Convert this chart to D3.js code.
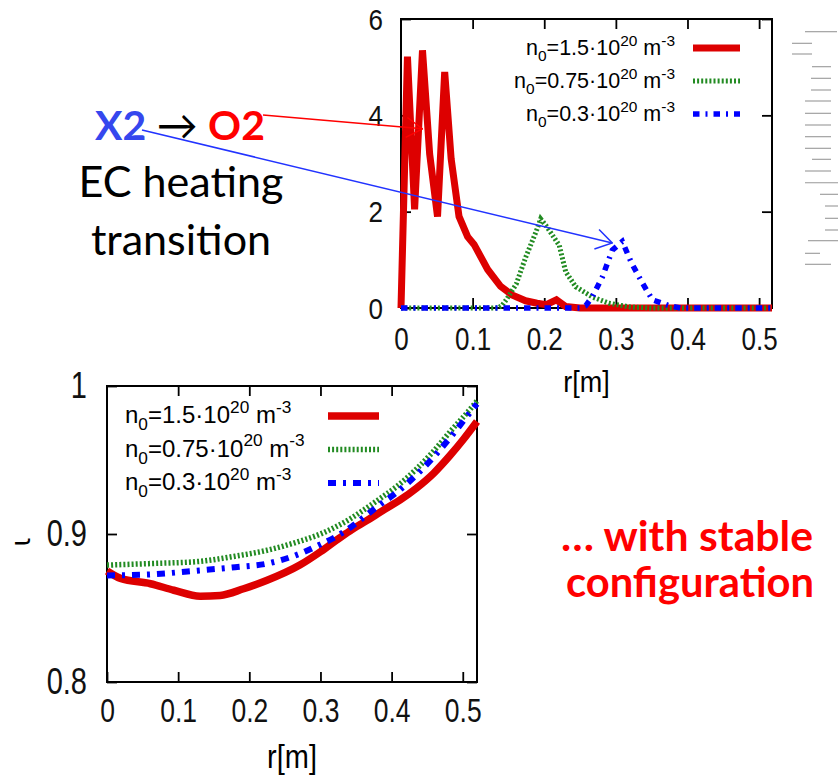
<!DOCTYPE html>
<html>
<head>
<meta charset="utf-8">
<script src="https://cdn.jsdelivr.net/npm/d3@7"></script>
<style>
body { margin: 0; background: #fff; }
svg { display: block; }
.tick line { stroke: #000; stroke-width: 1.8; }
.tick text { font-family: "Liberation Sans", Arial, sans-serif; fill: #111; }
.note { font-family: Lato, "Open Sans", sans-serif; }
</style>
</head>
<body>
<svg width="839" height="777"></svg>
<script>
// ---- data ----
// top panel: EC power density profile vs r[m]
var pwrHigh = [[0,0],[0.009,5.22],[0.019,2.05],[0.030,5.35],[0.040,3.2],[0.051,1.9],[0.061,4.9],[0.070,3.1],
  [0.081,1.9],[0.093,1.48],[0.102,1.32],[0.121,0.8],[0.139,0.45],[0.155,0.27],[0.174,0.15],[0.19,0.1],
  [0.203,0.07],[0.217,0.17],[0.23,0.03],[0.25,0],[0.3,0],[0.4,0],[0.5,0],[0.518,0]];
var pwrMid = [[0,0],[0.1,0],[0.135,0],[0.141,0.05],[0.147,0.17],[0.161,0.5],[0.174,1.05],[0.189,1.6],
  [0.195,1.85],[0.203,1.7],[0.221,1.3],[0.23,0.75],[0.244,0.44],[0.267,0.23],[0.29,0.1],[0.32,0.02],
  [0.35,0],[0.4,0],[0.5,0],[0.518,0]];
var pwrLow = [[0,0],[0.1,0],[0.2,0],[0.25,0],[0.258,0.05],[0.267,0.23],[0.281,0.64],[0.295,1.2],
  [0.309,1.38],[0.322,0.93],[0.337,0.52],[0.351,0.17],[0.374,0.05],[0.39,0],[0.45,0],[0.518,0]];

// bottom panel: rotational transform iota vs r[m]
var iotaHigh = [[0,0.875],[0.019,0.870],[0.061,0.8664],[0.094,0.862],[0.131,0.858],[0.159,0.8585],
  [0.192,0.863],[0.225,0.8687],[0.271,0.879],[0.30,0.888],[0.323,0.896],[0.341,0.902],[0.365,0.909],
  [0.388,0.916],[0.412,0.923],[0.435,0.931],[0.459,0.941],[0.482,0.953],[0.501,0.964],[0.52,0.976]];
var iotaMid = [[0,0.879],[0.06,0.880],[0.13,0.8815],[0.18,0.885],[0.225,0.889],[0.27,0.895],[0.30,0.900],
  [0.321,0.9047],[0.341,0.910],[0.36,0.916],[0.384,0.924],[0.407,0.932],[0.435,0.944],[0.459,0.956],
  [0.482,0.969],[0.515,0.987],[0.52,0.990]];
var iotaLow = [[0,0.872],[0.06,0.8727],[0.13,0.8754],[0.18,0.8776],[0.225,0.880],[0.27,0.8865],[0.30,0.893],
  [0.321,0.898],[0.341,0.904],[0.36,0.911],[0.384,0.920],[0.407,0.928],[0.435,0.940],[0.459,0.952],
  [0.482,0.965],[0.515,0.985],[0.52,0.988]];

var densities = ["1.5", "0.75", "0.3"];
var xTicks = [0, 0.1, 0.2, 0.3, 0.4, 0.5];
var pwrTicks = [0, 2, 4, 6];
var iotaTicks = [0.8, 0.9, 1];

var svg = d3.select("svg");

var styles = [
  {color: "#dd0000", width: 7, dash: null},
  {color: "#228b22", width: 5, dash: "2,2.1"},
  {color: "#0000ff", width: 5.5, dash: "6.5,6,2,6"}
];
var stylesLow = [
  {color: "#dd0000", width: 7.5, dash: null},
  {color: "#228b22", width: 5.5, dash: "2,2.1"},
  {color: "#0000ff", width: 6, dash: "8,7,3,7"}
];

function panel(box, xDom, yDom, yTicks, o) {
  var x = d3.scaleLinear().domain(xDom).range([box.l, box.r]);
  var y = d3.scaleLinear().domain(yDom).range([box.b, box.t]);
  var g = svg.append("g");

  var bx = g.append("g").attr("transform", "translate(0," + box.b + ")")
      .call(d3.axisBottom(x).tickValues(xTicks).tickSize(-10).tickFormat(String));
  bx.selectAll("text").attr("y", 0).attr("dy", null)
      .style("font-size", o.xfs + "px")
      .attr("transform", "translate(0," + o.xoff + ") scale(1," + o.xs + ")");
  g.append("g").attr("transform", "translate(0," + box.t + ")")
      .call(d3.axisTop(x).tickValues(xTicks.slice(1)).tickSize(-10).tickFormat(""));

  var ly = g.append("g").attr("transform", "translate(" + box.l + ",0)")
      .call(d3.axisLeft(y).tickValues(yTicks).tickSize(-10).tickFormat(String));
  ly.selectAll("text").attr("x", 0).attr("dy", null)
      .style("font-size", o.yfs + "px")
      .attr("transform", "translate(" + o.yoff + "," + o.ybase + ") scale(1," + o.ys + ")");
  g.append("g").attr("transform", "translate(" + box.r + ",0)")
      .call(d3.axisRight(y).tickValues(yTicks).tickSize(-10).tickFormat(""));
  g.selectAll(".domain").remove();

  g.append("rect").attr("x", box.l).attr("y", box.t)
      .attr("width", box.r - box.l).attr("height", box.b - box.t)
      .attr("fill", "none").attr("stroke", "#000").attr("stroke-width", 2);

  g.append("text").attr("x", (box.l + box.r) / 2).attr("y", 0)
      .attr("transform", "translate(0," + o.lab + ") scale(1,1.12)")
      .attr("text-anchor", "middle")
      .style("font-family", "Liberation Sans, Arial, sans-serif")
      .style("font-size", o.labfs + "px").text("r[m]");

  return {x: x, y: y, g: g};
}

function drawLines(p, series, st, curve) {
  var line = d3.line().curve(curve)
      .x(function(d) { return p.x(d[0]); }).y(function(d) { return p.y(d[1]); });
  series.forEach(function(s, i) {
    p.g.append("path").datum(s).attr("d", line)
      .attr("fill", "none").attr("stroke", st[i].color)
      .attr("stroke-width", st[i].width).attr("stroke-dasharray", st[i].dash)
      .attr("stroke-linejoin", "miter").attr("stroke-miterlimit", 10);
  });
}

function legend(p, st, o) {
  densities.forEach(function(dn, i) {
    var yy = o.y + i * o.dy;
    var t = p.g.append("text").attr("x", o.tx).attr("y", yy + 7)
        .attr("text-anchor", o.anchor)
        .style("font-family", "Liberation Sans, Arial, sans-serif")
        .style("font-size", o.fs + "px");
    var fs = o.fs;
    t.append("tspan").text("n");
    t.append("tspan").attr("dy", fs * 0.3).style("font-size", (fs * 0.72) + "px").text("0");
    t.append("tspan").attr("dy", -fs * 0.3).text("=" + dn + "\u00b710");
    t.append("tspan").attr("dy", -fs * 0.42).style("font-size", (fs * 0.72) + "px").text("20");
    t.append("tspan").attr("dy", fs * 0.42).text(" m");
    t.append("tspan").attr("dy", -fs * 0.42).style("font-size", (fs * 0.72) + "px").text("-3");
    p.g.append("line").attr("x1", o.l1).attr("x2", o.l2).attr("y1", yy).attr("y2", yy)
      .attr("stroke", st[i].color).attr("stroke-width", st[i].width)
      .attr("stroke-dasharray", st[i].dash);
  });
}

// ---- top panel ----
var upper = panel({l: 401, r: 772, t: 19, b: 308}, [0, 0.518], [0, 6], pwrTicks,
  {xfs: 26, xoff: 42, xs: 1.22, yfs: 26, yoff: -18, ybase: 10, ys: 1.1, lab: 392, labfs: 27});
drawLines(upper, [pwrHigh, pwrMid, pwrLow], styles, d3.curveLinear);
legend(upper, styles, {y: 48, dy: 33, tx: 675, anchor: "end", fs: 21.5, l1: 693, l2: 740});

// ---- bottom panel ----
var lower = panel({l: 107, r: 477, t: 386, b: 682}, [0, 0.52], [0.8, 1.0], iotaTicks,
  {xfs: 26.5, xoff: 40, xs: 1.22, yfs: 29, yoff: -20, ybase: 11, ys: 1.28, lab: 768, labfs: 29});
drawLines(lower, [iotaHigh, iotaMid, iotaLow], stylesLow, d3.curveMonotoneX);
legend(lower, stylesLow, {y: 416, dy: 33.5, tx: 125, anchor: "start", fs: 24, l1: 328, l2: 379});

svg.append("text").attr("transform", "translate(30,542) rotate(-90)")
  .attr("text-anchor", "middle")
  .style("font-family", "DejaVu Sans, sans-serif").style("font-size", "26px")
  .text("\u03b9");

// ---- annotations ----
function fit(t, w) {
  var fs = parseFloat(t.style("font-size"));
  t.style("font-size", (fs * w / t.node().getComputedTextLength()) + "px");
  return parseFloat(t.style("font-size"));
}

var head = svg.append("text").attr("class", "note").attr("x", 95).attr("y", 140)
  .style("font-size", "40px");
head.append("tspan").attr("fill", "#3547ee").style("font-weight", 700).text("X2");
head.append("tspan").attr("fill", "#000").text(" \u2192 ");
head.append("tspan").attr("fill", "#ff0000").style("font-weight", 700).text("O2");
fit(head, 170);

var ec = svg.append("text").attr("class", "note").attr("x", 181).attr("y", 197)
  .attr("text-anchor", "middle").style("font-size", "40px").text("EC heating");
var ecSize = fit(ec, 205);
svg.append("text").attr("class", "note").attr("x", 181).attr("y", 255)
  .attr("text-anchor", "middle").style("font-size", ecSize + "px").text("transition");

var w1 = svg.append("text").attr("class", "note").attr("x", 687).attr("y", 551)
  .attr("text-anchor", "middle").attr("fill", "#ff0000").style("font-weight", 700)
  .style("font-size", "36px").text("\u2026 with stable");
fit(w1, 252);
var w2 = svg.append("text").attr("class", "note").attr("x", 690).attr("y", 597)
  .attr("text-anchor", "middle").attr("fill", "#ff0000").style("font-weight", 700)
  .style("font-size", "36px").text("configuration");
fit(w2, 248);

// arrows from labels to the heating peaks
var defs = svg.append("defs");
[["headRed", "#ff0000"], ["headBlue", "#2233ff"]].forEach(function(m) {
  defs.append("marker").attr("id", m[0]).attr("viewBox", "0 0 18 22")
    .attr("refX", 17).attr("refY", 11).attr("markerWidth", 18).attr("markerHeight", 22)
    .attr("markerUnits", "userSpaceOnUse").attr("orient", "auto")
    .append("path").attr("d", "M1,1 L17,11 L1,21").attr("fill", "none")
    .attr("stroke", m[1]).attr("stroke-width", 1.5);
});
svg.append("line").attr("x1", 263).attr("y1", 115)
  .attr("x2", upper.x(0.03)).attr("y2", upper.y(3.72))
  .attr("stroke", "#ff0000").attr("stroke-width", 1.5).attr("marker-end", "url(#headRed)");
svg.append("line").attr("x1", 142).attr("y1", 130)
  .attr("x2", upper.x(0.295)).attr("y2", upper.y(1.35))
  .attr("stroke", "#2233ff").attr("stroke-width", 1.5).attr("marker-end", "url(#headBlue)");

// cropped edge of a neighbouring figure at the right margin
var edgeMarks = [[31.7,805,837],[43.3,792,812],[54,792,812],[66.7,812,831],[78.3,811,831],[90,811,831],
  [101,805,831],[113.3,805,831],[125,805,831],[136.7,805,831],[148.3,805,831],[159.3,812,831],
  [171,805,831],[182.7,805,838],[194.3,820,838],[206,825,838],[218.3,825,838],[230,825,838],
  [240.7,808,838],[253.3,805,820],[264.3,805,831]];
svg.append("g").selectAll("line").data(edgeMarks).enter().append("line")
  .attr("x1", function(d) { return d[1]; }).attr("x2", function(d) { return d[2]; })
  .attr("y1", function(d) { return d[0]; }).attr("y2", function(d) { return d[0]; })
  .attr("stroke", "#777").attr("stroke-width", 1.1).attr("opacity", 0.75);
</script>
</body>
</html>
